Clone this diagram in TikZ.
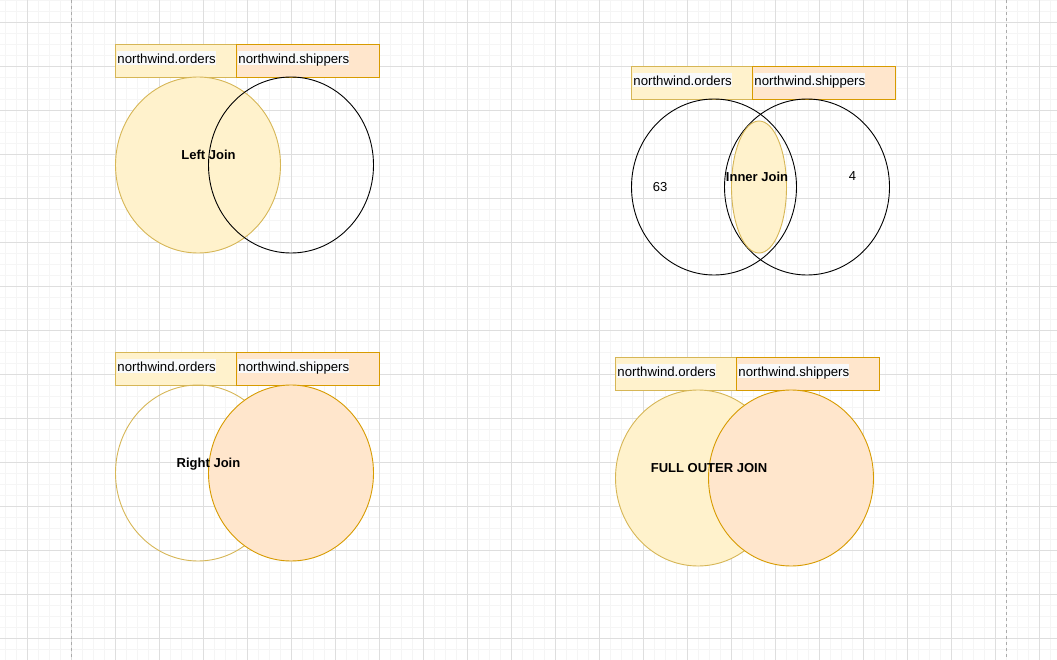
\documentclass[tikz,border=0pt]{standalone}
\usepackage{fontspec}
\setmainfont{Liberation Sans}
\usetikzlibrary{shapes.geometric}
\definecolor{ordfill}{HTML}{FFF2CC}
\definecolor{orddraw}{HTML}{D6B656}
\definecolor{shipfill}{HTML}{FFE6CC}
\definecolor{shipdraw}{HTML}{D79B00}
\definecolor{namebg}{HTML}{F8F9FA}
\definecolor{gridlight}{HTML}{F5F5F5}
\definecolor{griddark}{HTML}{DEDEDE}
\definecolor{pagegray}{HTML}{ABABAB}
\tikzset{
minorgrid/.style={draw=gridlight, line width=0.8pt},
majorgrid/.style={draw=griddark, line width=0.8pt},
pageline/.style={draw=pagegray, line width=0.9pt, dash pattern=on 3pt off 3pt},
ordersbox/.style={draw=orddraw, fill=ordfill, anchor=north west, minimum width=121pt, minimum height=33pt, inner sep=0pt},
shippersbox/.style={draw=shipdraw, fill=shipfill, anchor=north west, minimum width=143pt, minimum height=33pt, inner sep=0pt},
tablename/.style={fill=namebg, anchor=west, inner sep=0pt, text height=12.6pt, text depth=1.4pt, font=\fontsize{13.2}{15}\selectfont},
venn/.style={ellipse, minimum width=165pt, minimum height=176pt, inner sep=0pt, outer sep=0pt},
ordset/.style={venn, draw=orddraw, fill=ordfill},
shipset/.style={venn, draw=shipdraw, fill=shipfill},
emptyorders/.style={venn, draw=orddraw},
emptyset/.style={venn, draw=black},
overlap/.style={ellipse, draw=orddraw, fill=ordfill, minimum width=55pt, minimum height=132pt, inner sep=0pt},
joinlabel/.style={anchor=base, font=\fontsize{13}{15}\selectfont\bfseries},
countlabel/.style={anchor=base, font=\fontsize{13}{15}\selectfont},
}
\begin{document}
\begin{tikzpicture}[x=1pt, y=-1pt, line width=0.9pt]
    \useasboundingbox (0,0) rectangle (1057,660);
    \foreach \gx in {5,16,...,1057} \draw[minorgrid] (\gx,0) -- (\gx,660);
    \foreach \gy in {0,11,...,660} \draw[minorgrid] (0,\gy) -- (1057,\gy);
    \foreach \gx in {27,71,...,1057} \draw[majorgrid] (\gx,0) -- (\gx,660);
    \foreach \gy in {22,66,...,660} \draw[majorgrid] (0,\gy) -- (1057,\gy);
    \draw[pageline] (71,0) -- (71,660);
    \draw[pageline] (1006,0) -- (1006,660);
    % left join
    \node[ordersbox] (oboxL) at (115,44) {};
    \node[shippersbox] (sboxL) at (236,44) {};
    \node[tablename] (onameL) at ([xshift=2pt,yshift=2.8pt]oboxL.west) {northwind.orders};
    \node[tablename] (snameL) at ([xshift=2pt,yshift=2.8pt]sboxL.west) {northwind.shippers};
    \node[ordset] (osetL) at (198,165) {};
    \node[emptyset] (ssetL) at (291,165) {};
    \node[joinlabel] (leftjoin) at (208.5,159.5) {Left Join};
    % inner join
    \node[ordersbox] (oboxI) at (631,66) {};
    \node[shippersbox] (sboxI) at (752,66) {};
    \node[tablename] (onameI) at ([xshift=2pt,yshift=2.8pt]oboxI.west) {northwind.orders};
    \node[tablename] (snameI) at ([xshift=2pt,yshift=2.8pt]sboxI.west) {northwind.shippers};
    \node[emptyset] (osetI) at (714,187) {};
    \node[emptyset] (ssetI) at (807,187) {};
    \node[overlap] (bothI) at (759,187) {};
    \node[joinlabel] (innerjoin) at (757,181.5) {Inner Join};
    \node[countlabel] (onlyorders) at (660,191.7) {63};
    \node[countlabel] (onlyshippers) at (852.5,180.7) {4};
    % right join
    \node[ordersbox] (oboxR) at (115,352) {};
    \node[shippersbox] (sboxR) at (236,352) {};
    \node[tablename] (onameR) at ([xshift=2pt,yshift=2.8pt]oboxR.west) {northwind.orders};
    \node[tablename] (snameR) at ([xshift=2pt,yshift=2.8pt]sboxR.west) {northwind.shippers};
    \node[emptyorders] (osetR) at (198,473) {};
    \node[shipset] (ssetR) at (291,473) {};
    \node[joinlabel] (rightjoin) at (208.5,467.5) {Right Join};
    % full outer join
    \node[ordersbox] (oboxF) at (615,357) {};
    \node[shippersbox] (sboxF) at (736,357) {};
    \node[tablename] (onameF) at ([xshift=2pt,yshift=2.8pt]oboxF.west) {northwind.orders};
    \node[tablename] (snameF) at ([xshift=2pt,yshift=2.8pt]sboxF.west) {northwind.shippers};
    \node[ordset] (osetF) at (698,478) {};
    \node[shipset] (ssetF) at (791,478) {};
    \node[joinlabel] (fulljoin) at (709,472.5) {FULL OUTER JOIN};
\end{tikzpicture}
\end{document}
